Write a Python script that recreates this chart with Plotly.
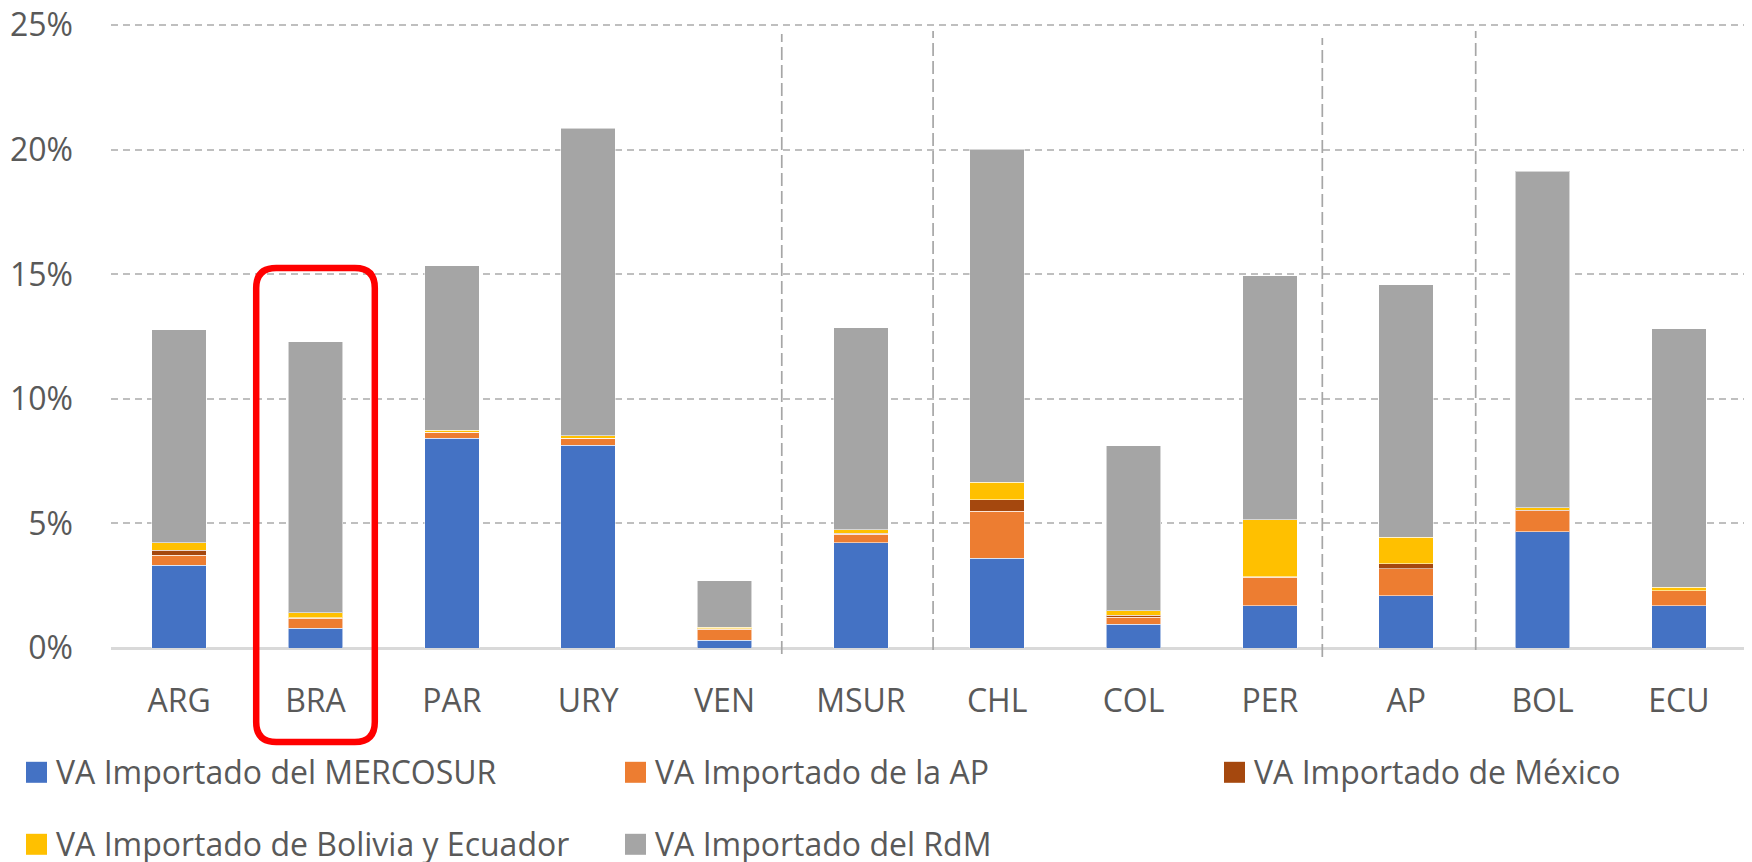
import plotly.graph_objects as go

# ---------------- data (percent of gross exports) ----------------
categories = ["ARG", "BRA", "PAR", "URY", "VEN", "MSUR", "CHL", "COL", "PER", "AP", "BOL", "ECU"]
va_mercosur = [3.32, 0.80, 8.43, 8.14, 0.31, 4.22, 3.61, 0.96, 1.69, 2.09, 4.66, 1.69]
va_ap = [0.41, 0.40, 0.23, 0.28, 0.45, 0.34, 1.88, 0.28, 1.16, 1.10, 0.86, 0.60]
va_mexico = [0.20, 0.02, 0.01, 0.01, 0.01, 0.04, 0.47, 0.07, 0.01, 0.19, 0.02, 0.01]
va_bol_ecu = [0.30, 0.19, 0.08, 0.09, 0.07, 0.15, 0.69, 0.19, 2.28, 1.06, 0.10, 0.13]
va_rdm = [8.55, 10.88, 6.59, 12.35, 1.86, 8.10, 13.38, 6.61, 9.80, 10.14, 13.49, 10.38]

series_names = [
    "VA Importado del MERCOSUR",
    "VA Importado de la AP",
    "VA Importado de México",
    "VA Importado de Bolivia y Ecuador",
    "VA Importado del RdM",
]
series_values = [va_mercosur, va_ap, va_mexico, va_bol_ecu, va_rdm]
series_colors = ["#4472C4", "#ED7D31", "#A5480E", "#FFC000", "#A5A5A5"]

y_ticks = [0, 5, 10, 15, 20, 25]
y_tick_labels = ["0%", "5%", "10%", "15%", "20%", "25%"]
# group separators (category-index positions) and highlighted category
separator_positions = [4.42, 5.53, 8.385, 9.51]
highlight_index = 1

# ---------------- layout geometry ----------------
W, H = 1752, 862
PAGE_OFF = 8  # default body margin of the html page
ML, MR, MT, MB = 103, 13, 16, 222
PW, PH = W - ML - MR, H - MT - MB
FONT = "Open Sans"
TXT = "#595959"
FS = 32
n = len(categories)


def px_x(px):
    """page pixel x -> paper fraction"""
    return (px - PAGE_OFF - ML) / PW


def px_y(py):
    """page pixel y -> paper fraction"""
    return (H - MB - (py - PAGE_OFF)) / PH


def cat_x(i):
    return (i + 0.5) / n


fig = go.Figure()
xs = list(range(n))
for name, vals, col in zip(series_names, series_values, series_colors):
    fig.add_trace(go.Bar(
        x=xs, y=vals, name=name,
        marker=dict(color=col, line=dict(color="rgba(255,255,255,0.55)", width=1)),
        showlegend=False,
    ))

shapes = []
# dashed vertical separators
sep_extents = [(34, 654), (31, 650), (38, 657), (31, 650)]
for pos, (y0, y1) in zip(separator_positions, sep_extents):
    shapes.append(dict(
        type="line", xref="paper", yref="paper",
        x0=cat_x(pos), x1=cat_x(pos), y0=px_y(y1), y1=px_y(y0),
        line=dict(color="#A6A6A6", width=1.7, dash="13px,5px"), layer="above",
    ))

# red rounded rectangle around highlighted category
cx = cat_x(highlight_index)
half_w = 0.435 / n
x0, x1 = cx - half_w, cx + half_w
y_top, y_bot = px_y(268), px_y(742)
rx, ry = 20 / PW, 20 / PH
path = (
    f"M {x0 + rx},{y_top} L {x1 - rx},{y_top} Q {x1},{y_top} {x1},{y_top - ry} "
    f"L {x1},{y_bot + ry} Q {x1},{y_bot} {x1 - rx},{y_bot} "
    f"L {x0 + rx},{y_bot} Q {x0},{y_bot} {x0},{y_bot + ry} "
    f"L {x0},{y_top - ry} Q {x0},{y_top} {x0 + rx},{y_top} Z"
)
shapes.append(dict(type="path", xref="paper", yref="paper", path=path,
                   line=dict(color="#FF0000", width=6.5), layer="above"))

# custom legend
legend_cols_px = [26, 625, 1224]
legend_rows_px = [772.3, 844.3]
annotations = []
for k, (name, col) in enumerate(zip(series_names, series_colors)):
    r, c = divmod(k, 3)
    lx = legend_cols_px[c]
    ly = legend_rows_px[r]
    shapes.append(dict(type="rect", xref="paper", yref="paper",
                       x0=px_x(lx), x1=px_x(lx + 21), y0=px_y(ly + 10.5), y1=px_y(ly - 10.5),
                       fillcolor=col, line=dict(width=0)))
    annotations.append(dict(xref="paper", yref="paper", x=px_x(lx + 28), y=px_y(ly - 1),
                            xanchor="left", yanchor="middle", showarrow=False, text=name,
                            font=dict(family=FONT, size=FS, color=TXT)))

fig.update_layout(
    width=W, height=H,
    margin=dict(l=ML, r=MR, t=MT, b=MB, pad=0, autoexpand=False),
    barmode="stack", bargap=0.6,
    plot_bgcolor="white", paper_bgcolor="white",
    font=dict(family=FONT, size=FS, color=TXT),
    shapes=shapes, annotations=annotations,
    xaxis=dict(
        tickmode="array", tickvals=xs, ticktext=categories, range=[-0.5, n - 0.5],
        showgrid=False, zeroline=False, showline=False, ticks="", automargin=False,
        ticklabelstandoff=31, ticklabeloverflow="allow",
        tickfont=dict(family=FONT, size=FS, color=TXT),
    ),
    yaxis=dict(
        range=[0, 25.05], tickmode="array", tickvals=y_ticks, ticktext=y_tick_labels,
        showgrid=True, gridcolor="#BFBFBF", gridwidth=1.5, griddash="7px,5px",
        zeroline=True, zerolinecolor="#D9D9D9", zerolinewidth=2.5,
        showline=False, ticks="", ticklabelstandoff=37, automargin=False,
        ticklabeloverflow="allow",
        tickfont=dict(family=FONT, size=FS, color=TXT),
    ),
)

fig.write_html("out.html")
